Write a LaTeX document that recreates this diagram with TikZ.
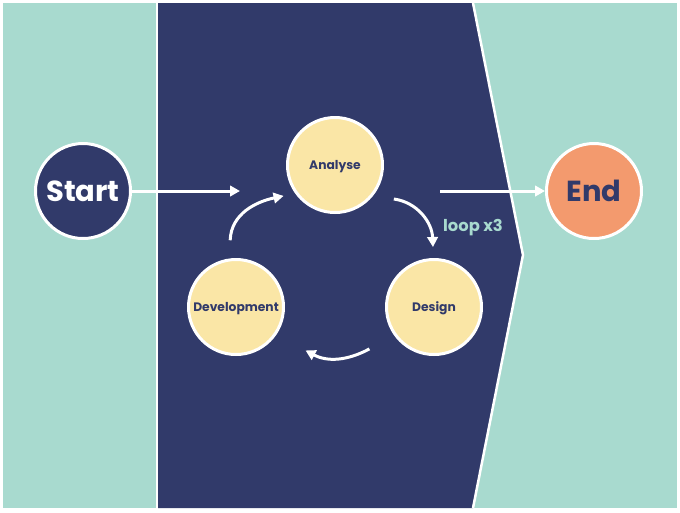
\documentclass[tikz,border=0pt]{standalone}
\usepackage{fontspec}
\setmainfont{Poppins}
\usetikzlibrary{arrows.meta, positioning}

\definecolor{mint}{HTML}{A8DACF}
\definecolor{navy}{HTML}{313A6A}
\definecolor{sand}{HTML}{FAE6A6}
\definecolor{peach}{HTML}{F39A6E}

\begin{document}
\begin{tikzpicture}[
        x = 0.02cm, y = -0.02cm,
        > = {Triangle[width=2.1mm,length=2mm]},
        flow/.style = {->, draw = white, line width = 0.06cm},
        terminal/.style = {
            circle,
            draw = white,
            line width = 0.06cm,
            minimum size = 1.9cm,
            inner sep = 0pt,
            text depth = 0pt,
            font = \bfseries\fontsize{16.5}{18}\selectfont
        },
        phase/.style = {
            circle,
            draw = white,
            fill = sand,
            line width = 0.06cm,
            minimum size = 1.9cm,
            inner sep = 0pt,
            text depth = 0pt,
            text = navy,
            font = \bfseries\fontsize{7}{8}\selectfont
        }
    ]

        % panels
        \useasboundingbox (0,0) rectangle (680,512);
        \fill[white] (0,0) rectangle (680,512);
        \fill[mint] (3,3) rectangle (677,508);
        \fill[navy] (158,3) -- (473,3) -- (523,255) -- (473,508) -- (158,508) -- cycle;
        \draw[white, line width = 0.05cm] (157,3) -- (157,508);
        \draw[white, line width = 0.05cm] (473,3) -- (523,255) -- (473,508);

        % start and end
        \node[terminal, fill = navy, text = white] (start) at (83,191) {Start};
        \node[terminal, fill = peach, text = navy] (end) at (594,191) {End};

        % the cycle
        \node[phase] (analyse) at (335,165) {Analyse};
        \node[phase] (design) at (434,307) {Design};
        \node[phase] (develop) at (236,307) {Development};

        \coordinate (cyclein) at (240,191);
        \coordinate (cycleout) at (440,191);

        \draw[flow] (start) -- (cyclein);
        \draw[flow] (cycleout) -- (end);

        \draw[flow] ([shift={(95:0.36cm)}]develop.95) to[out=88, in=192] ([shift={(211:0.22cm)}]analyse.211);
        \draw[flow] ([shift={(-30:0.38cm)}]analyse.-30) to[out=-8, in=92] ([shift={(91:0.22cm)}]design.91);
        \draw[flow] ([shift={(213:0.56cm)}]design.213) to[out=208, in=-28] ([shift={(-32:0.66cm)}]develop.-32);

        \node[text = mint, font = \bfseries\fontsize{9.3}{11}\selectfont] (loops) at (473,228) {loop x3};

    \end{tikzpicture}
\end{document}
